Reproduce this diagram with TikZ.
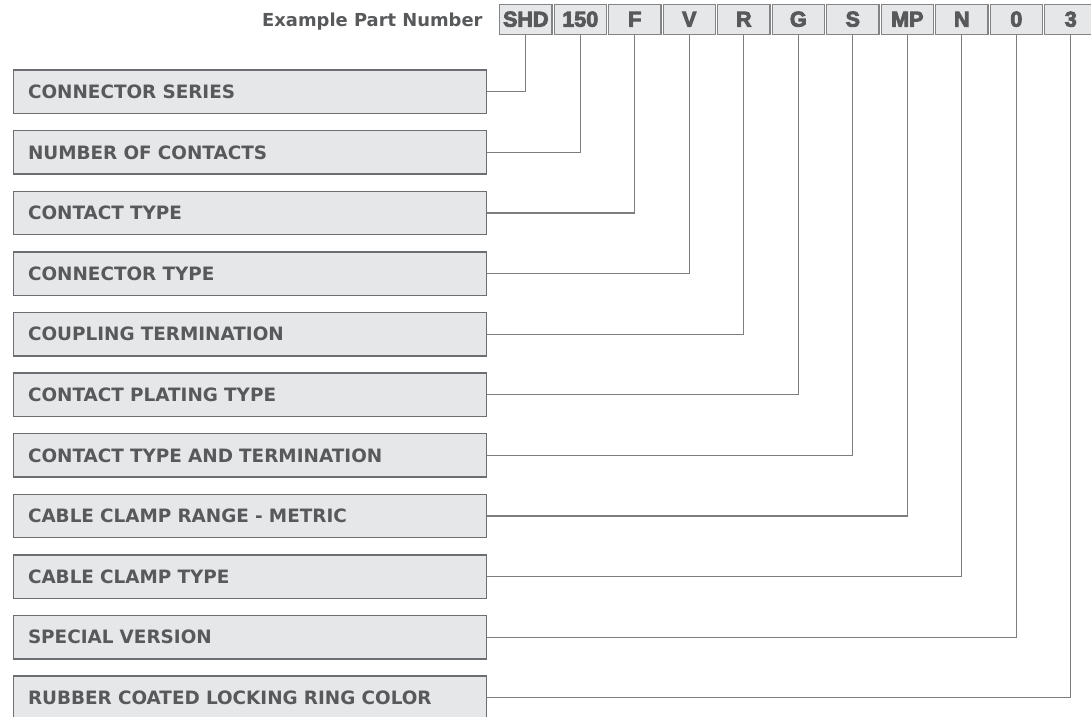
\documentclass[tikz,border=0pt]{standalone}
\usepackage{fontspec}
\setmainfont{DejaVu Sans}
\newfontfamily\codefont[FakeBold=4]{Liberation Sans Bold}
\definecolor{txtgray}{HTML}{58595B}
\definecolor{boxfill}{HTML}{E6E7E8}
\definecolor{linegray}{HTML}{6D6E71}
\tikzset{
  labelbox/.style={draw=linegray, line width=1.4pt, fill=boxfill, anchor=north west,
    text width=444pt, inner xsep=14.6pt, inner ysep=0pt, minimum height=43.5pt,
    align=left, text=txtgray, font=\fontsize{18.4}{21}\selectfont\bfseries},
  codebox/.style={draw=linegray!85, line width=1.2pt, fill=boxfill, minimum width=52.2pt,
    minimum height=30.2pt, inner sep=0pt, text=txtgray,
    font=\codefont\fontsize{21.5}{23}\selectfont},
  headtxt/.style={text=txtgray, font=\fontsize{17.9}{20}\selectfont\bfseries, inner sep=0pt},
  conn/.style={draw=linegray!90, line width=1.3pt}
}
\begin{document}
\begin{tikzpicture}[x=1pt,y=-1pt]
\useasboundingbox (0,0) rectangle (1091,716);
\clip (0,0) rectangle (1091,716);
% header
\node[headtxt, anchor=base east] (hdr) at (482.7,26.5) {Example Part Number};
% part code boxes
\node[codebox] (p1) at (525.8,19.2) {SHD};
\node[codebox] (p2) at (580.3,19.2) {150};
\node[codebox] (p3) at (634.8,19.2) {F};
\node[codebox] (p4) at (689.3,19.2) {V};
\node[codebox] (p5) at (743.8,19.2) {R};
\node[codebox] (p6) at (798.3,19.2) {G};
\node[codebox] (p7) at (852.8,19.2) {S};
\node[codebox] (p8) at (907.3,19.2) {MP};
\node[codebox] (p9) at (961.8,19.2) {N};
\node[codebox] (p10) at (1016.3,19.2) {0};
\node[codebox] (p11) at (1070.8,19.2) {3};
% label boxes
\node[labelbox] (l1) at (12.7,69.3) {CONNECTOR SERIES};
\node[labelbox] (l2) at (12.7,129.9) {NUMBER OF CONTACTS};
\node[labelbox] (l3) at (12.7,190.5) {CONTACT TYPE};
\node[labelbox] (l4) at (12.7,251.1) {CONNECTOR TYPE};
\node[labelbox] (l5) at (12.7,311.7) {COUPLING TERMINATION};
\node[labelbox] (l6) at (12.7,372.3) {CONTACT PLATING TYPE};
\node[labelbox] (l7) at (12.7,432.9) {CONTACT TYPE AND TERMINATION};
\node[labelbox] (l8) at (12.7,493.5) {CABLE CLAMP RANGE - METRIC};
\node[labelbox] (l9) at (12.7,554.1) {CABLE CLAMP TYPE};
\node[labelbox] (l10) at (12.7,614.7) {SPECIAL VERSION};
\node[labelbox] (l11) at (12.7,675.3) {RUBBER COATED LOCKING RING COLOR};
% connectors
\foreach \i in {1,...,11} {
  \draw[conn] (l\i.east) -| (p\i.south);
}
\end{tikzpicture}
\end{document}
